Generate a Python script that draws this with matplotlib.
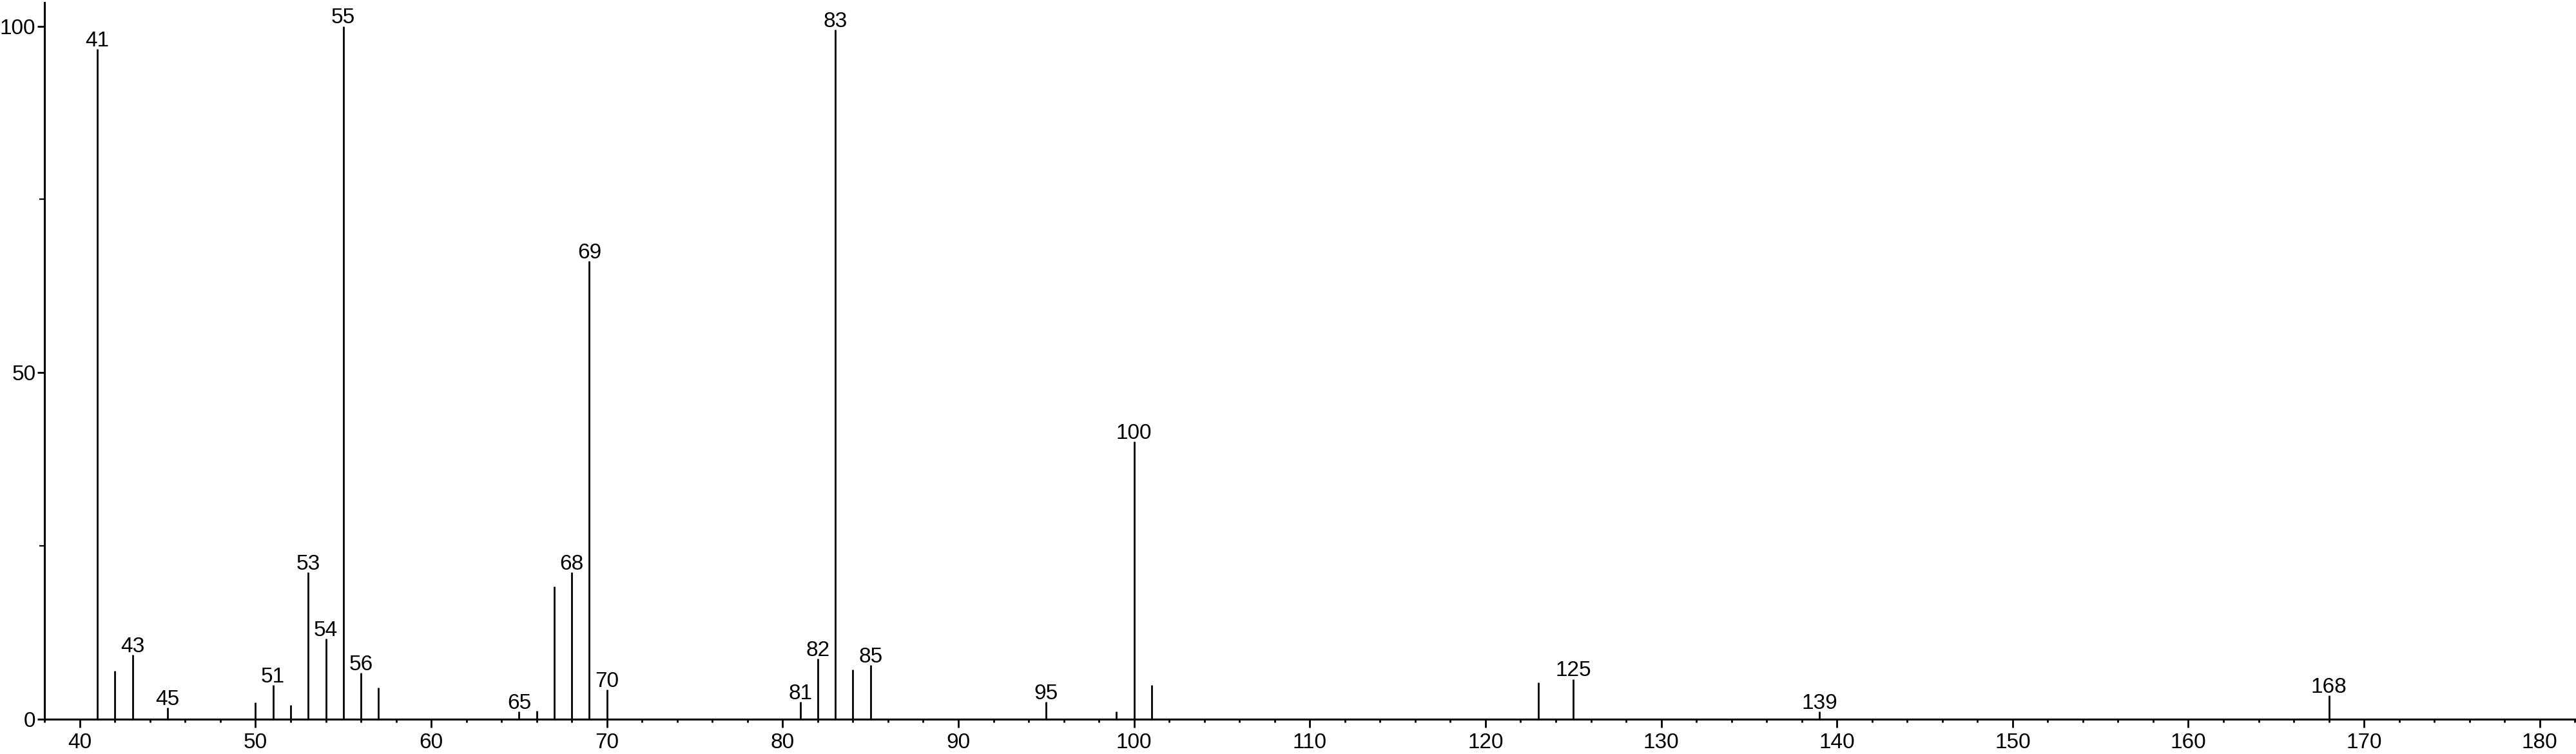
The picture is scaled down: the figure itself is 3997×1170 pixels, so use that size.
import matplotlib
matplotlib.use("Agg")
from matplotlib import pyplot as plt
from matplotlib.ticker import MultipleLocator

plt.rcParams['font.family'] = ['Liberation Sans', 'DejaVu Sans']

# spectrum: m/z and relative intensity
mz = [41, 42, 43, 45, 50, 51, 52, 53, 54, 55, 56, 57, 65, 66, 67, 68, 69, 70,
      81, 82, 83, 84, 85, 95, 99, 100, 101, 123, 125, 139, 168]
intensity = [96.7, 7.0, 9.3, 1.7, 2.4, 4.9, 2.0, 21.2, 11.6, 100.0, 6.7, 4.6,
             1.1, 1.2, 19.2, 21.2, 66.1, 4.3,
             2.5, 8.7, 99.5, 7.2, 7.8, 2.5, 1.1, 40.1, 4.9, 5.3, 5.8, 1.1, 3.4]
# peaks that carry a label
labelled = [41, 43, 45, 51, 53, 54, 55, 56, 65, 68, 69, 70, 81, 82, 83, 85,
            95, 100, 125, 139, 168]

x_ticks = [40, 50, 60, 70, 80, 90, 100, 110, 120, 130, 140, 150, 160, 170, 180]
y_ticks = [0, 50, 100]

fig = plt.figure(figsize=(39.98, 11.7), dpi=100)
ax = fig.add_axes([0.01733, 0.04615, 1 - 0.01733, 0.99658 - 0.04615])

ax.vlines(mz, 0, intensity, colors='black', linewidth=2.0)

for m, h in zip(mz, intensity):
    if m in labelled:
        ax.annotate(str(m), (m, h), xytext=(0, 3), textcoords='offset points',
                    ha='center', va='baseline', fontsize=24)

ax.set_xlim(38, 182.1)
ax.set_ylim(0, 103.4)

ax.spines['top'].set_visible(False)
ax.spines['right'].set_visible(False)
ax.spines['left'].set_linewidth(2.2)
ax.spines['bottom'].set_linewidth(2.2)

ax.set_xticks(x_ticks)
ax.xaxis.set_minor_locator(MultipleLocator(2))
ax.set_yticks(y_ticks)
ax.yaxis.set_minor_locator(MultipleLocator(25))

ax.tick_params(axis='x', which='major', length=9, width=2.0, pad=6, labelsize=24)
ax.tick_params(axis='x', which='minor', length=3.6, width=2.0)
ax.tick_params(axis='y', which='major', length=8, width=2.0, pad=2, labelsize=24)
ax.tick_params(axis='y', which='minor', length=6, width=1.6)

fig.savefig("out.png", dpi=100)
